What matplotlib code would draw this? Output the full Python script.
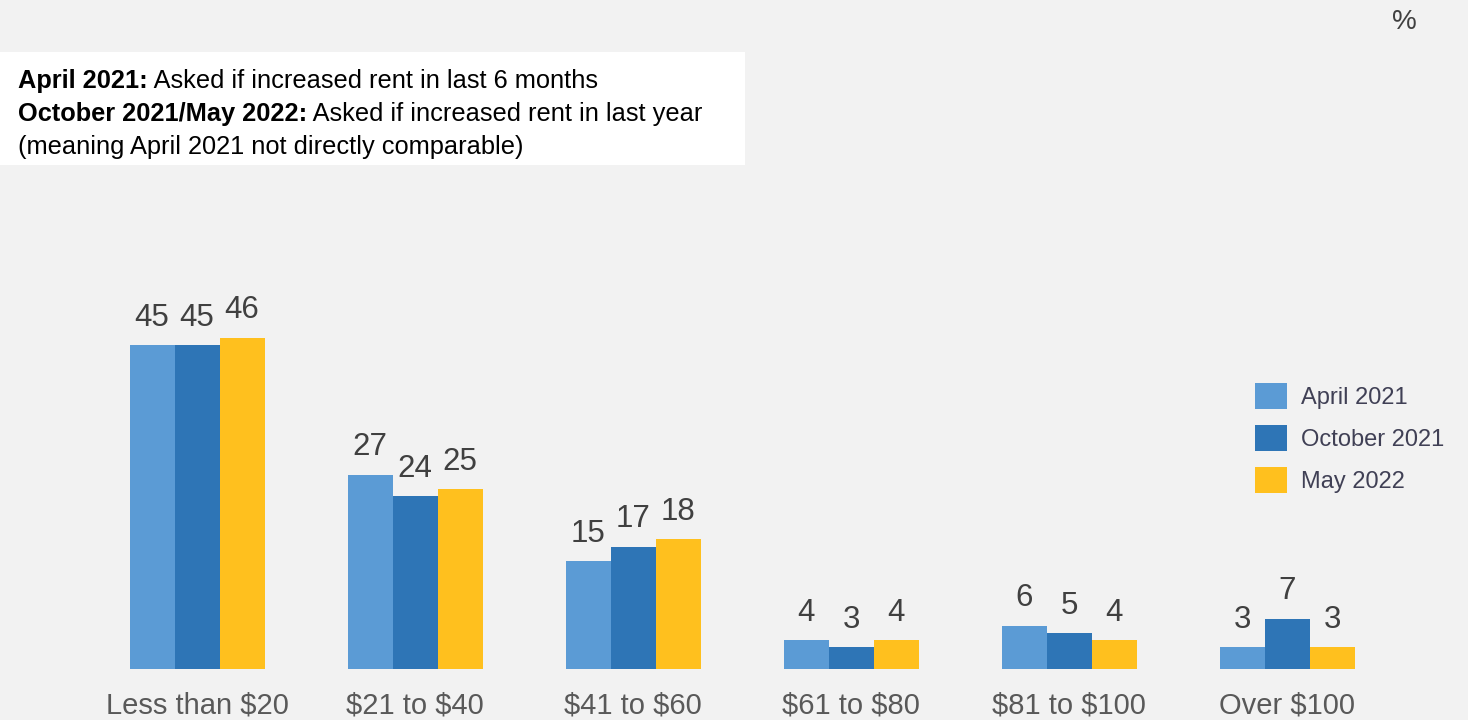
import matplotlib.pyplot as plt
import numpy as np
from matplotlib.patches import Rectangle

# Data
categories = ['Less than \\$20', '\\$21 to \\$40', '\\$41 to \\$60', '\\$61 to \\$80', '\\$81 to \\$100', 'Over \\$100']
series_names = ['April 2021', 'October 2021', 'May 2022']
april_2021 = [45, 27, 15, 4, 6, 3]
october_2021 = [45, 24, 17, 3, 5, 7]
may_2022 = [46, 25, 18, 4, 4, 3]
colors = ['#5B9BD5', '#2E75B6', '#FFC01E']

W, H = 1468, 720
fig = plt.figure(figsize=(W / 100, H / 100), dpi=100)
fig.patch.set_facecolor('#F2F2F2')

# axes from the bar baseline (y=669 px) to the top of the figure
base_px = 51
ax = fig.add_axes([0, base_px / H, 1, 1 - base_px / H])
ax.set_facecolor('none')
px_per_unit_x = 218
px_per_unit_y = 7.2
ax.set_xlim(-197 / px_per_unit_x, (W - 197) / px_per_unit_x)
ax.set_ylim(0, (H - base_px) / px_per_unit_y)

x = np.arange(len(categories))
bw = 45 / px_per_unit_x
all_series = [april_2021, october_2021, may_2022]
for i, (vals, name, c) in enumerate(zip(all_series, series_names, colors)):
    pos = x + (i - 1) * bw
    ax.bar(pos, vals, bw, color=c, label=name, linewidth=0)
    for p, v in zip(pos, vals):
        ax.annotate(str(v), (p, v), xytext=(0, 9), textcoords='offset points',
                    ha='center', va='bottom', fontsize=22.5, color='#404040',
                    family='Liberation Sans')

ax.set_xticks(x)
ax.set_xticklabels(categories, fontsize=21, color='#595959', family='Liberation Sans')
ax.tick_params(axis='x', length=0, pad=16)
ax.set_yticks([])
for s in ax.spines.values():
    s.set_visible(False)

# legend
leg = ax.legend(loc='upper left', bbox_to_anchor=(1234 / W, 1 - 362 / (H - base_px)),
                frameon=False, prop={'family': 'Liberation Sans', 'size': 17},
                handlelength=1.35, handleheight=1.3, handletextpad=0.6, labelspacing=0.69)
for t in leg.get_texts():
    t.set_color('#404055')

# percent sign
fig.text(1404 / W, 1 - 22 / H, '%', fontsize=20, color='#404040', ha='center', va='center',
         family='Liberation Sans')

# note box
fig.patches.append(Rectangle((0, 1 - 165 / H), 745 / W, 113 / H, transform=fig.transFigure,
                             facecolor='white', edgecolor='none', zorder=0))
note_font = ['Liberation Sans Narrow', 'Liberation Sans']
lines = [('April 2021:', ' Asked if increased rent in last 6 months'),
         ('October 2021/May 2022:', ' Asked if increased rent in last year'),
         ('', '(meaning April 2021 not directly comparable)')]
renderer = fig.canvas.get_renderer()
for k, (bold, rest) in enumerate(lines):
    y = 1 - (88 + 33 * k) / H
    xpos = 18 / W
    if bold:
        t = fig.text(xpos, y, bold, fontsize=18.3, fontweight='bold', family=note_font,
                     color='black', va='baseline')
        bb = t.get_window_extent(renderer)
        xpos = bb.x1 / W
    fig.text(xpos, y, rest, fontsize=18.3, family=note_font, color='black', va='baseline')

fig.savefig('out.png', dpi=100, facecolor=fig.get_facecolor())
